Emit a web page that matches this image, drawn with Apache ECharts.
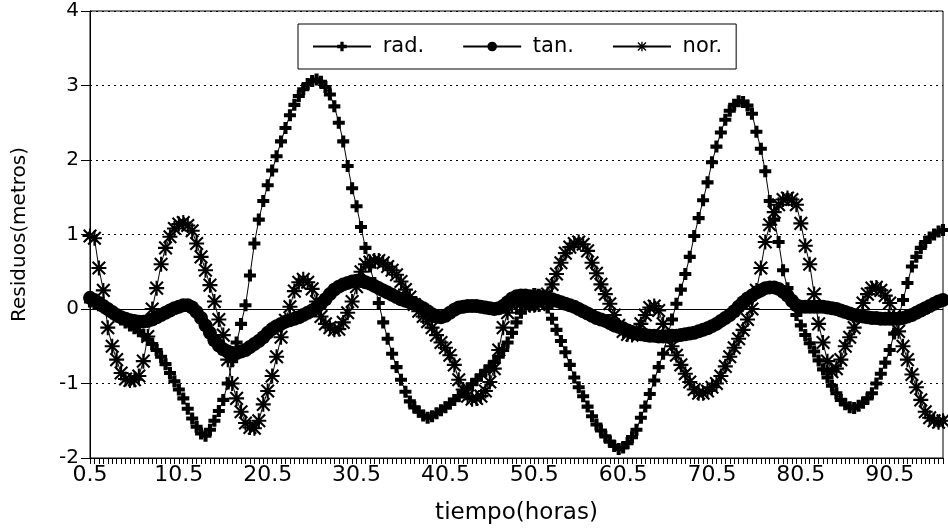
<!DOCTYPE html>
<html>
<head>
<meta charset="utf-8">
<script src="https://cdn.jsdelivr.net/npm/echarts@6/dist/echarts.min.js"></script>
<style>html,body{margin:0;padding:0;background:#fff}#c{width:948px;height:530px}</style>
</head>
<body>
<div id="c"></div>
<script>
// time grid: every 0.5 h from 0.5 to 96.5 (193 categories)
const hours = [];
for (let i = 0; i < 193; i++) hours.push(String(0.5 + 0.5 * i));

const seriesNames = ['rad.', 'tan.', 'nor.'];

const rad = [
  0.10,0.08,0.05,0.02,-0.02,-0.06,-0.10,-0.14,-0.18,-0.22,
  -0.26,-0.30,-0.35,-0.41,-0.47,-0.55,-0.64,-0.74,-0.86,-0.97,
  -1.08,-1.20,-1.34,-1.47,-1.58,-1.67,-1.70,-1.62,-1.50,-1.37,
  -1.22,-1.00,-0.70,-0.45,-0.20,0.05,0.45,0.88,1.20,1.45,
  1.66,1.86,2.05,2.25,2.43,2.60,2.74,2.86,2.95,3.02,
  3.06,3.08,3.05,2.98,2.88,2.72,2.50,2.25,1.92,1.62,
  1.38,1.10,0.82,0.57,0.35,0.08,-0.18,-0.40,-0.60,-0.78,
  -0.95,-1.11,-1.24,-1.32,-1.38,-1.43,-1.46,-1.44,-1.40,-1.36,
  -1.32,-1.27,-1.22,-1.17,-1.12,-1.07,-1.01,-0.95,-0.89,-0.83,
  -0.77,-0.71,-0.64,-0.55,-0.45,-0.32,-0.18,-0.05,0.08,0.16,
  0.20,0.19,0.14,0.02,-0.13,-0.28,-0.43,-0.58,-0.75,-0.92,
  -1.05,-1.17,-1.31,-1.44,-1.55,-1.63,-1.71,-1.78,-1.84,-1.88,
  -1.86,-1.80,-1.72,-1.62,-1.46,-1.31,-1.14,-0.96,-0.78,-0.60,
  -0.37,-0.14,0.07,0.26,0.47,0.70,0.98,1.22,1.46,1.70,
  1.97,2.18,2.37,2.54,2.66,2.74,2.79,2.78,2.73,2.62,
  2.38,2.15,1.85,1.45,1.20,0.90,0.52,0.28,0.09,-0.08,
  -0.22,-0.35,-0.46,-0.57,-0.69,-0.81,-0.92,-1.03,-1.13,-1.22,
  -1.28,-1.32,-1.33,-1.30,-1.26,-1.20,-1.13,-1.00,-0.87,-0.72,
  -0.55,-0.33,-0.12,0.12,0.35,0.57,0.70,0.82,0.90,0.96,
  1.00,1.04,1.06
];

const tan = [
  0.15,0.12,0.08,0.04,0.00,-0.04,-0.08,-0.11,-0.13,-0.15,
  -0.16,-0.17,-0.17,-0.16,-0.14,-0.11,-0.08,-0.05,-0.02,0.01,
  0.03,0.05,0.05,0.02,-0.04,-0.12,-0.22,-0.32,-0.42,-0.49,
  -0.54,-0.57,-0.59,-0.59,-0.57,-0.55,-0.51,-0.47,-0.43,-0.38,
  -0.32,-0.27,-0.23,-0.20,-0.17,-0.15,-0.13,-0.11,-0.08,-0.05,
  -0.02,0.02,0.07,0.13,0.20,0.26,0.30,0.33,0.35,0.37,
  0.38,0.38,0.36,0.34,0.31,0.28,0.25,0.22,0.19,0.16,
  0.13,0.11,0.09,0.07,0.04,0.01,-0.03,-0.07,-0.10,-0.11,
  -0.09,-0.05,-0.01,0.02,0.03,0.04,0.04,0.04,0.03,0.02,
  0.01,0.00,0.01,0.04,0.09,0.14,0.17,0.18,0.18,0.17,
  0.16,0.16,0.16,0.15,0.13,0.11,0.09,0.07,0.05,0.03,
  0.00,-0.03,-0.06,-0.09,-0.12,-0.14,-0.16,-0.19,-0.22,-0.24,
  -0.26,-0.29,-0.31,-0.33,-0.34,-0.35,-0.36,-0.36,-0.37,-0.37,
  -0.37,-0.36,-0.36,-0.35,-0.34,-0.33,-0.32,-0.30,-0.28,-0.26,
  -0.23,-0.20,-0.16,-0.12,-0.08,-0.03,0.03,0.09,0.14,0.18,
  0.22,0.25,0.28,0.29,0.29,0.27,0.23,0.18,0.11,0.05,
  0.03,0.03,0.03,0.03,0.03,0.03,0.02,0.01,0.00,-0.02,
  -0.04,-0.06,-0.08,-0.09,-0.10,-0.11,-0.12,-0.12,-0.13,-0.13,
  -0.13,-0.13,-0.13,-0.12,-0.10,-0.08,-0.05,-0.02,0.01,0.04,
  0.07,0.10,0.12
];

const nor = [
  0.98,0.95,0.55,0.25,-0.25,-0.50,-0.68,-0.86,-0.94,-0.96,
  -0.95,-0.90,-0.70,-0.37,0.00,0.28,0.60,0.82,0.97,1.08,
  1.14,1.16,1.12,1.05,0.88,0.70,0.52,0.32,0.10,-0.14,
  -0.35,-0.68,-1.00,-1.20,-1.38,-1.53,-1.59,-1.60,-1.50,-1.28,
  -1.10,-0.90,-0.64,-0.38,-0.15,0.03,0.24,0.36,0.40,0.36,
  0.27,0.10,-0.10,-0.20,-0.25,-0.28,-0.27,-0.18,-0.05,0.10,
  0.30,0.50,0.60,0.63,0.65,0.65,0.62,0.57,0.52,0.46,
  0.37,0.26,0.16,0.06,-0.03,-0.10,-0.17,-0.25,-0.35,-0.45,
  -0.52,-0.62,-0.75,-0.95,-1.08,-1.17,-1.21,-1.20,-1.17,-1.10,
  -0.98,-0.80,-0.55,-0.25,-0.05,0.05,0.07,0.07,0.06,0.05,
  0.05,0.06,0.10,0.20,0.33,0.47,0.62,0.75,0.83,0.88,
  0.90,0.87,0.78,0.62,0.48,0.33,0.20,0.07,-0.08,-0.22,
  -0.30,-0.34,-0.35,-0.30,-0.20,-0.08,0.02,0.04,-0.02,-0.20,
  -0.36,-0.50,-0.62,-0.75,-0.87,-0.98,-1.08,-1.13,-1.13,-1.10,
  -1.05,-1.00,-0.90,-0.77,-0.64,-0.52,-0.40,-0.28,-0.14,0.00,
  0.25,0.55,0.90,1.13,1.30,1.40,1.47,1.49,1.47,1.40,
  1.15,0.85,0.60,0.20,-0.20,-0.45,-0.70,-0.84,-0.80,-0.68,
  -0.50,-0.38,-0.25,-0.10,0.08,0.20,0.28,0.29,0.25,0.18,
  0.08,-0.10,-0.30,-0.50,-0.68,-0.88,-1.05,-1.22,-1.38,-1.46,
  -1.50,-1.52,-1.50
];

const PLUS = 'path://M3.3,0H6.7V3.3H10V6.7H6.7V10H3.3V6.7H0V3.3H3.3Z';
const STAR = 'path://M0,8.6H20V11.4H0Z M8.6,0H11.4V20H8.6Z M2.6,0.6L19.4,17.4L17.4,19.4L0.6,2.6Z M17.4,0.6L19.4,2.6L2.6,19.4L0.6,17.4Z';

const FONT = 'DejaVu Sans';
const chart = echarts.init(document.getElementById('c'), null, {renderer: 'canvas'});

function lineSeries(name, data, symbol, size, z) {
  return {
    name: name, type: 'line', data: data,
    symbol: symbol, symbolSize: size, showAllSymbol: true,
    lineStyle: {color: '#000', width: 1},
    itemStyle: {color: '#000', borderWidth: 0},
    z: z, animation: false
  };
}

const s0 = lineSeries(seriesNames[0], rad, PLUS, 12, 3);
s0.markLine = {
  silent: true, symbol: ['none', 'none'], animation: false,
  label: {show: false},
  lineStyle: {color: '#000', width: 1, type: 'solid'},
  data: [{yAxis: 0}]
};

chart.setOption({
  animation: false,
  backgroundColor: '#fff',
  textStyle: {fontFamily: FONT, color: '#000'},
  grid: {left: 90, right: 5, top: 11, bottom: 68, show: true, borderColor: '#000', borderWidth: 1, backgroundColor: 'transparent'},
  legend: {
    left: 298, top: 24, padding: [12, 14], itemGap: 38,
    itemWidth: 58, itemHeight: 12,
    backgroundColor: '#fff', borderColor: '#000', borderWidth: 1,
    textStyle: {fontFamily: FONT, fontSize: 21, color: '#000'},
    formatter: function (n) { return ' ' + n; },
    data: seriesNames
  },
  xAxis: {
    type: 'category', data: hours, boundaryGap: false,
    name: 'tiempo(horas)', nameLocation: 'middle', nameGap: 44,
    nameTextStyle: {fontFamily: FONT, fontSize: 23, color: '#000'},
    axisLine: {onZero: false, lineStyle: {color: '#000', width: 1}},
    axisTick: {show: true, interval: 0, length: 6, lineStyle: {color: '#000', width: 1}},
    axisLabel: {interval: 19, margin: 6, fontFamily: FONT, fontSize: 22, color: '#000'},
    splitLine: {show: false}
  },
  yAxis: {
    type: 'value', min: -2, max: 4, interval: 1,
    name: 'Residuos(metros)', nameLocation: 'middle', nameGap: 60,
    nameTextStyle: {fontFamily: FONT, fontSize: 20, color: '#000'},
    axisLine: {show: true, lineStyle: {color: '#000', width: 1}},
    axisTick: {show: true, length: 9, lineStyle: {color: '#000', width: 1}},
    axisLabel: {margin: 11, fontFamily: FONT, fontSize: 20, color: '#000'},
    splitLine: {show: true, lineStyle: {color: '#000', width: 1, type: [2, 4]}}
  },
  series: [
    s0,
    lineSeries(seriesNames[1], tan, 'circle', 14, 4),
    lineSeries(seriesNames[2], nor, STAR, 15, 5)
  ]
});
</script>
</body>
</html>
